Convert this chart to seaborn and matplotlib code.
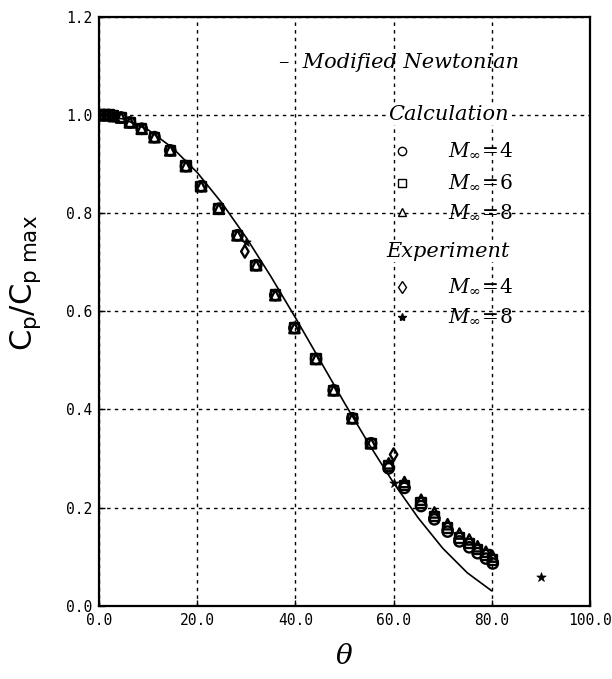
import numpy as np
import pandas as pd
import matplotlib
matplotlib.use("Agg")
import matplotlib.pyplot as plt
import seaborn as sns

# Modified Newtonian theory curve
theta_newton = [0, 5, 10, 15, 20, 25, 30, 35, 40, 45, 50, 55, 60, 65, 70, 75, 80]
cp_newton = [1.000, 0.992, 0.970, 0.933, 0.883, 0.821, 0.750, 0.671, 0.587,
             0.500, 0.413, 0.329, 0.250, 0.179, 0.117, 0.067, 0.030]

# Calculated surface pressure, three free-stream Mach numbers
theta_calc = [0, 1, 2, 3, 4.5, 6.3, 8.7, 11.3, 14.5, 17.7, 20.8, 24.4, 28.2, 32.0,
              35.9, 39.8, 44.2, 47.8, 51.6, 55.4, 59.0, 62.2, 65.6, 68.3, 71.0,
              73.4, 75.4, 77.1, 78.8, 80.2]
cp_calc_m4 = [1.000, 1.000, 1.000, 0.998, 0.995, 0.985, 0.972, 0.955, 0.928, 0.896,
              0.855, 0.809, 0.755, 0.694, 0.633, 0.566, 0.503, 0.439, 0.382, 0.331,
              0.280, 0.240, 0.203, 0.176, 0.151, 0.131, 0.119, 0.107, 0.096, 0.086]
cp_calc_m6 = [1.000, 1.000, 1.000, 0.998, 0.995, 0.985, 0.972, 0.955, 0.928, 0.896,
              0.855, 0.809, 0.755, 0.694, 0.633, 0.566, 0.503, 0.439, 0.382, 0.331,
              0.285, 0.245, 0.209, 0.182, 0.158, 0.138, 0.127, 0.114, 0.103, 0.093]
cp_calc_m8 = [1.000, 1.000, 1.000, 0.998, 0.995, 0.985, 0.972, 0.955, 0.928, 0.896,
              0.855, 0.809, 0.755, 0.694, 0.633, 0.566, 0.503, 0.439, 0.382, 0.331,
              0.290, 0.252, 0.216, 0.190, 0.166, 0.147, 0.135, 0.121, 0.110, 0.100]

# Experimental data
theta_exp_m4 = [29.7, 60.0]
cp_exp_m4 = [0.722, 0.308]
theta_exp_m8 = [30.0, 60.0, 90.0]
cp_exp_m8 = [0.741, 0.250, 0.058]

x_ticks = [0, 20, 40, 60, 80, 100]
y_ticks = [0.0, 0.2, 0.4, 0.6, 0.8, 1.0, 1.2]

sns.set_theme(style="white")
plt.rcParams["mathtext.fontset"] = "dejavuserif"
plt.rcParams["font.family"] = ["DejaVu Sans"]
plt.rcParams["text.color"] = "black"
plt.rcParams["axes.labelcolor"] = "black"
plt.rcParams["xtick.color"] = "black"
plt.rcParams["ytick.color"] = "black"

fig = plt.figure(figsize=(6.12, 6.79), dpi=100)
ax = fig.add_axes([0.1618, 0.108, 0.8023, 0.867])

sns.lineplot(x=theta_newton, y=cp_newton, ax=ax, color="black", lw=1.2,
             sort=False, estimator=None)

hollow = dict(facecolor="none", edgecolor="black", linewidth=1.7, zorder=3)
sns.scatterplot(x=theta_calc, y=cp_calc_m4, ax=ax, marker="o", s=55, **hollow)
sns.scatterplot(x=theta_calc, y=cp_calc_m6, ax=ax, marker="s", s=45, **hollow)
sns.scatterplot(x=theta_calc, y=cp_calc_m8, ax=ax, marker="^", s=55, **hollow)
sns.scatterplot(x=theta_exp_m4, y=cp_exp_m4, ax=ax, marker="d", s=40, **hollow)
sns.scatterplot(x=theta_exp_m8, y=cp_exp_m8, ax=ax, marker="*", s=50,
                color="black", edgecolor="black", linewidth=0.5, zorder=4)

ax.set_xlim(0, 100)
ax.set_ylim(0, 1.2)
ax.set_xticks(x_ticks)
ax.set_yticks(y_ticks)
ax.set_xticklabels([f"{v:.1f}" for v in x_ticks], family="DejaVu Sans Mono", fontsize=10.5)
ax.set_yticklabels([f"{v:.1f}" for v in y_ticks], family="DejaVu Sans Mono", fontsize=10.5)
ax.tick_params(direction="in", length=4, width=1, color="black", pad=5,
               bottom=True, left=True)
ax.grid(True, color="black", linestyle=(0, (2.5, 3)), linewidth=1.0)
for sp in ax.spines.values():
    sp.set_color("black")
    sp.set_linewidth(1.6)

ax.set_xlabel(r"$\theta$", fontsize=20, labelpad=10)
ax.set_ylabel(r"$\mathsf{C_p/C_{p\ max}}$", fontsize=22)
ax.yaxis.set_label_coords(-0.115, 0.548)

# Key
serif_it = dict(family="DejaVu Serif", style="italic", fontsize=15,
                transform=ax.transAxes, va="center", color="black")
ax.text(0.855, 0.922, "\u2013  Modified Newtonian", ha="right", **serif_it)
ax.text(0.711, 0.8335, "Calculation", ha="center", **serif_it,
        bbox=dict(facecolor="white", edgecolor="none", pad=0.5))
ax.text(0.711, 0.601, "Experiment", ha="center", **serif_it,
        bbox=dict(facecolor="white", edgecolor="none", pad=0.5))

key_x = 0.618
key_rows = [
    (0.773, "o", "none", r"$M_\infty\!=\!4$"),
    (0.7186, "s", "none", r"$M_\infty\!=\!6$"),
    (0.669, "^", "none", r"$M_\infty\!=\!8$"),
    (0.542, "d", "none", r"$M_\infty\!=\!4$"),
    (0.491, "*", "black", r"$M_\infty\!=\!8$"),
]
for ky, mk, fc, lab in key_rows:
    ax.plot([key_x], [ky], marker=mk, markersize=6, markerfacecolor=fc,
            markeredgecolor="black", markeredgewidth=1.0, linestyle="none",
            transform=ax.transAxes, clip_on=False)
    ax.text(0.711, ky, lab, ha="left", fontsize=14.5, transform=ax.transAxes,
            va="center", color="black")

fig.savefig("out.png", dpi=100, facecolor="white")
